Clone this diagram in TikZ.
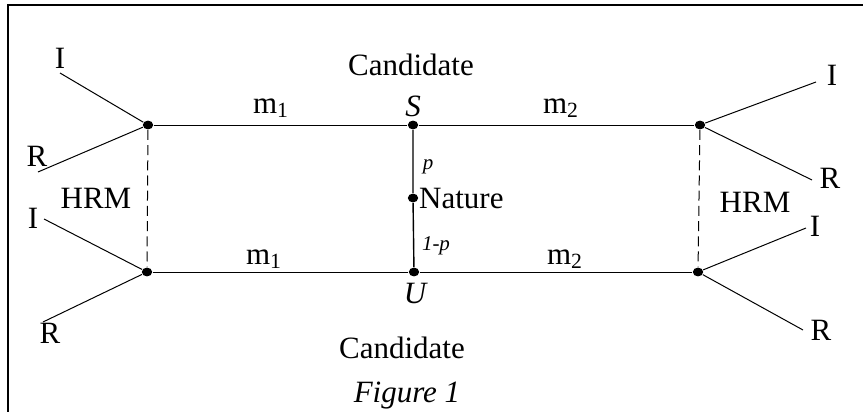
\documentclass[tikz,border=0pt]{standalone}
\usepackage{fontspec}
\setmainfont{Liberation Serif}
\usetikzlibrary{positioning,shapes.geometric}

\begin{document}
\begin{tikzpicture}[x=0.5pt,y=-0.5pt,line width=0.5pt,
    font=\fontsize{15.5}{18}\selectfont,
    decnode/.style={ellipse,fill=black,inner sep=0pt,minimum width=5.2pt,minimum height=4.4pt},
    hrmline/.style={dash pattern=on 5pt off 2.6pt},
    prob/.style={font=\fontsize{10.5}{12}\selectfont\itshape}]
  \useasboundingbox (0,0) rectangle (863,412);
  % frame (cut off at right and bottom)
  \draw[line width=1.1pt] (8,412) -- (8,5) -- (863,5);
  % decision nodes
  \node[decnode] (A) at (148,125) {};
  \node[decnode] (B) at (147,272) {};
  \node[decnode] (S) at (413,125) {};
  \node[decnode] (N) at (413,198) {};
  \node[decnode] (U) at (414,272) {};
  \node[decnode] (C) at (700,125) {};
  \node[decnode] (D) at (698,272) {};
  % branch ends
  \coordinate (ai) at (60,73);   \coordinate (ar) at (38,172);
  \coordinate (bi) at (44,219);  \coordinate (br) at (43,322);
  \coordinate (ci) at (816,82);  \coordinate (cr) at (812,180);
  \coordinate (di) at (806,228); \coordinate (dr) at (803,330);
  % tree
  \draw (A) -- (S) -- (C);
  \draw (B) -- (U) -- (D);
  \draw[line width=0.7pt] (S) -- (N) -- (U);
  \draw[hrmline] (A) -- (B);
  \draw[hrmline] (C) -- (D);
  \draw (A) -- (ai);  \draw (A) -- (ar);
  \draw (B) -- (bi);  \draw (B) -- (br);
  \draw (C) -- (ci);  \draw (C) -- (cr);
  \draw (D) -- (di);  \draw (D) -- (dr);
  % labels
  \node (ctop) at (411,65) {Candidate};
  \node (cbot) at (402,348) {Candidate};
  \node (fig) at (407,396) {\itshape Figure 1};
  \node (sl) at (413,106) {\itshape S};
  \node (ul) at (415,293) {\itshape U};
  \node[anchor=west,inner sep=0pt] (nl) at (N.east) {Nature};
  \node[prob] (pl) at (428,167) {p};
  \node[prob] (ql) at (436,246) {1-p};
  \node (m1t) at (271,108) {m\textsubscript{1}};
  \node (m2t) at (561,108) {m\textsubscript{2}};
  \node (m1b) at (264,259) {m\textsubscript{1}};
  \node (m2b) at (565,259) {m\textsubscript{2}};
  \node (hl) at (96,198) {HRM};
  \node (hr) at (755,202) {HRM};
  \node (ail) at (60,58) {I};   \node (arl) at (37,156) {R};
  \node (bil) at (33,218) {I};  \node (brl) at (50,333) {R};
  \node (cil) at (832,75) {I};  \node (crl) at (830,178) {R};
  \node (dil) at (815,226) {I}; \node (drl) at (821,330) {R};
\end{tikzpicture}
\end{document}
